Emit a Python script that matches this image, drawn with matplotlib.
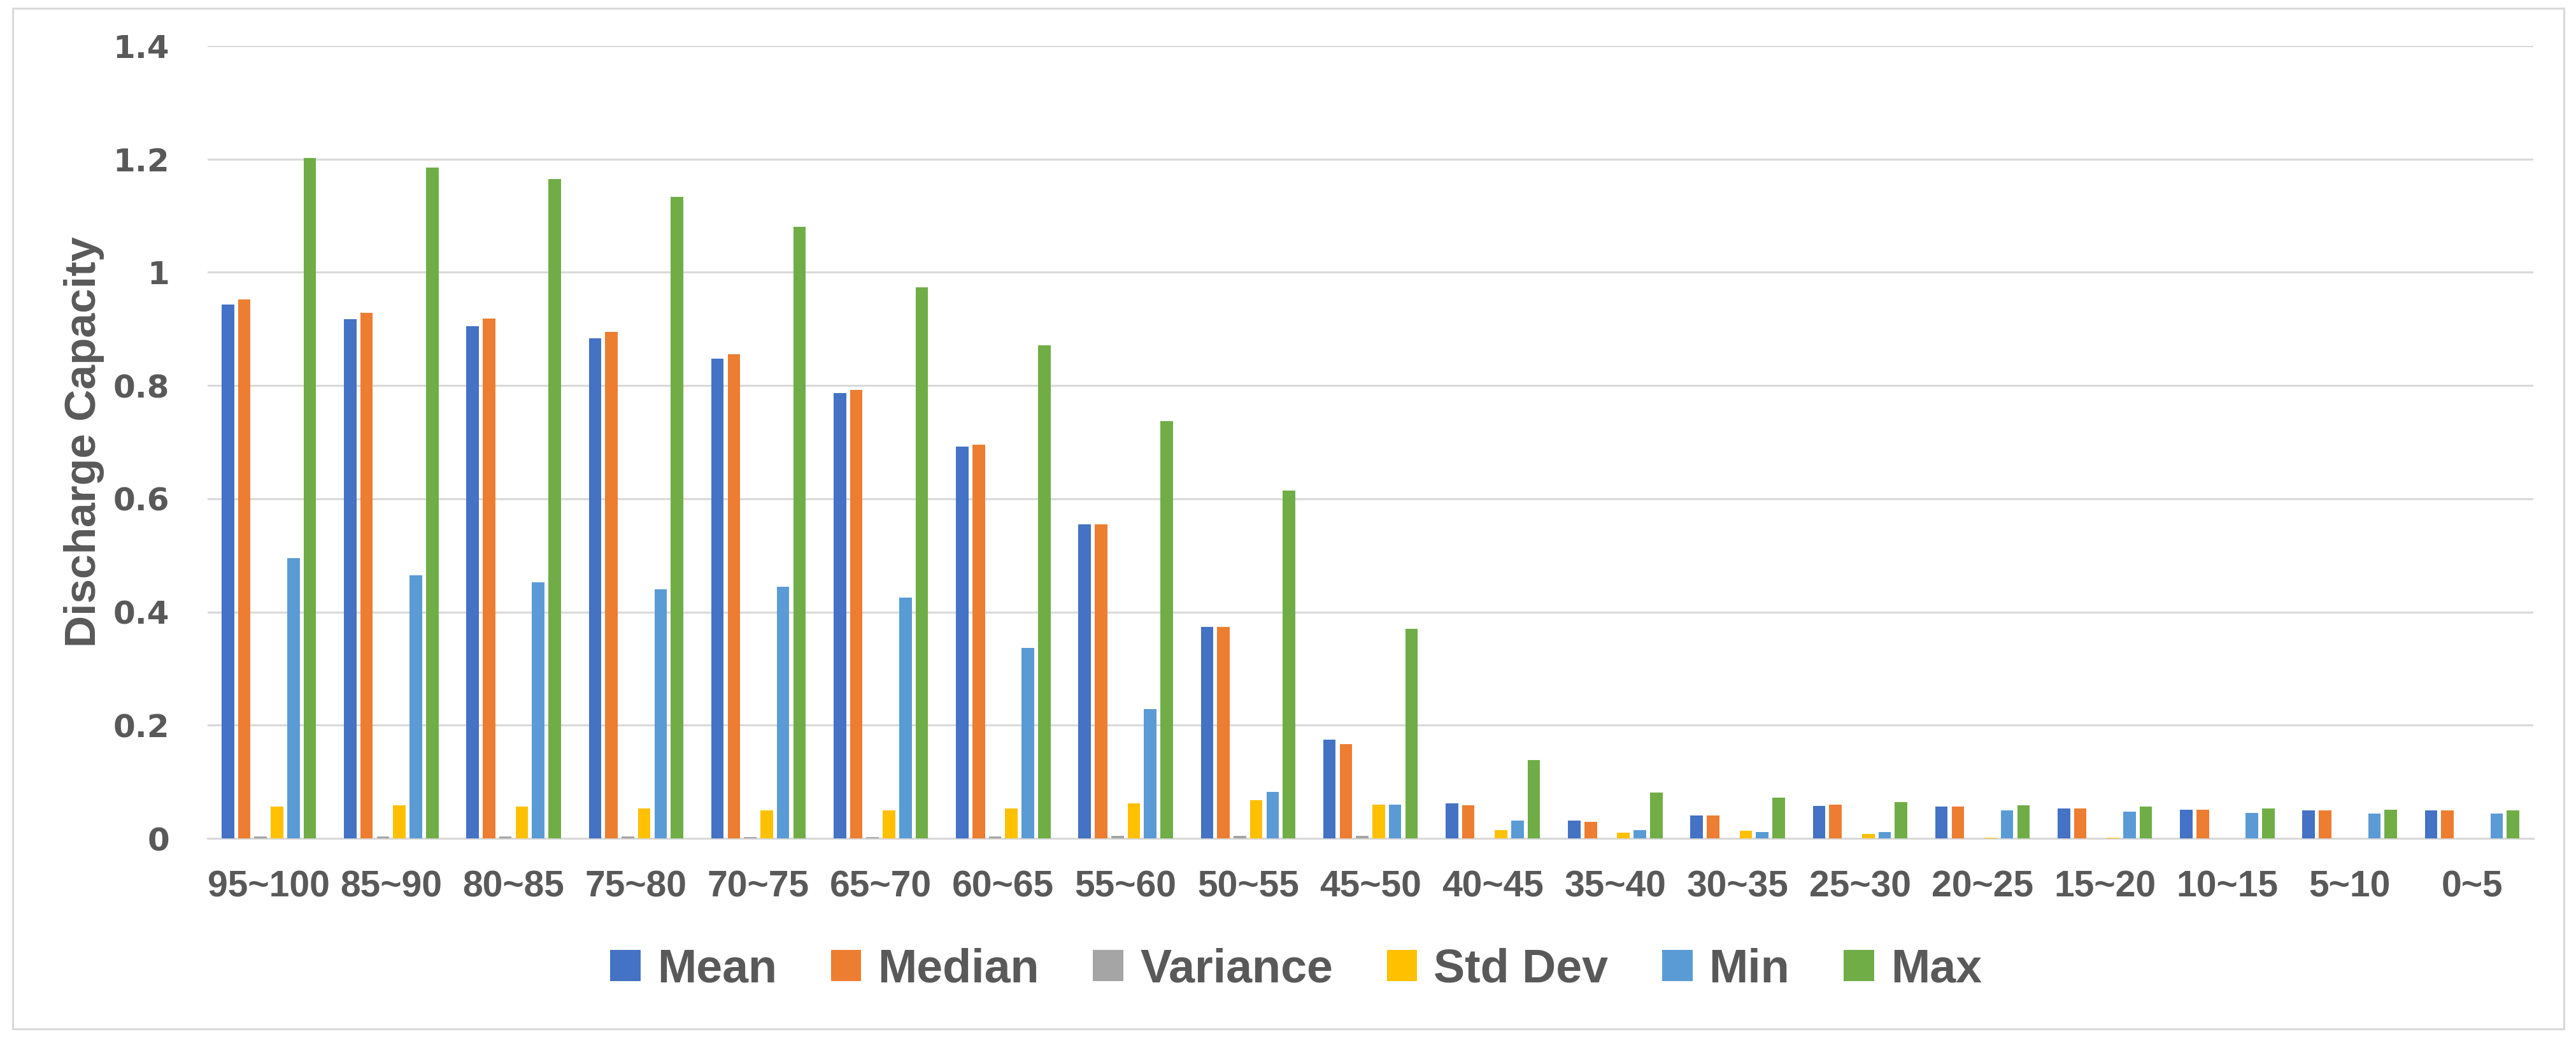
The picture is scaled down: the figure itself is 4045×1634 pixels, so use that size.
import matplotlib
matplotlib.use("Agg")
import matplotlib.pyplot as plt
import numpy as np
from matplotlib.patches import Rectangle

categories = ["95~100", "85~90", "80~85", "75~80", "70~75", "65~70", "60~65",
              "55~60", "50~55", "45~50", "40~45", "35~40", "30~35", "25~30",
              "20~25", "15~20", "10~15", "5~10", "0~5"]

mean_vals = [0.943, 0.917, 0.905, 0.883, 0.847, 0.787, 0.692, 0.555, 0.374, 0.174,
             0.062, 0.031, 0.040, 0.057, 0.056, 0.053, 0.051, 0.050, 0.049]
median_vals = [0.952, 0.928, 0.918, 0.895, 0.855, 0.792, 0.696, 0.555, 0.374, 0.167,
               0.059, 0.029, 0.040, 0.060, 0.056, 0.053, 0.051, 0.050, 0.049]
variance_vals = [0.003, 0.003, 0.003, 0.003, 0.002, 0.002, 0.003, 0.004, 0.004, 0.004,
                 0.0003, 0.0001, 0.0002, 0.0001, 0.0, 0.0, 0.0, 0.0, 0.0]
std_vals = [0.056, 0.058, 0.056, 0.053, 0.049, 0.049, 0.053, 0.062, 0.067, 0.060,
            0.015, 0.010, 0.0135, 0.0083, 0.0006, 0.0006, 0.0005, 0.0005, 0.0005]
min_vals = [0.495, 0.465, 0.452, 0.440, 0.444, 0.425, 0.337, 0.228, 0.082, 0.060,
            0.031, 0.015, 0.011, 0.011, 0.049, 0.047, 0.045, 0.044, 0.044]
max_vals = [1.202, 1.185, 1.165, 1.133, 1.080, 0.973, 0.871, 0.737, 0.614, 0.370,
            0.138, 0.081, 0.072, 0.064, 0.059, 0.056, 0.053, 0.051, 0.050]

series_names = ["Mean", "Median", "Variance", "Std Dev", "Min", "Max"]
series_vals = [mean_vals, median_vals, variance_vals, std_vals, min_vals, max_vals]
colors = ["#4472C4", "#ED7D31", "#A5A5A5", "#FFC000", "#5B9BD5", "#70AD47"]
yticks = [0, 0.2, 0.4, 0.6, 0.8, 1.0, 1.2, 1.4]
ytick_labels = ["0", "0.2", "0.4", "0.6", "0.8", "1", "1.2", "1.4"]

W, H = 4045, 1634
fig = plt.figure(figsize=(W / 100, H / 100), dpi=100)
ax = fig.add_axes([326 / W, 1 - 1316 / H, (3978 - 326) / W, (1316 - 72) / H])

txt_color = "#595959"
grid_color = "#D9D9D9"
sans = ["Liberation Sans", "DejaVu Sans"]

x = np.arange(len(categories))
pitch = 0.134
bw = 0.102
for i, (name, vals, c) in enumerate(zip(series_names, series_vals, colors)):
    ax.bar(x + (i - 2.5) * pitch, vals, width=bw, color=c, label=name, zorder=3,
           linewidth=0)

ax.set_xlim(-0.5, len(categories) - 0.5)
ax.set_ylim(0, 1.4)
ax.set_yticks(yticks)
ax.set_yticklabels(ytick_labels, fontsize=36, fontweight="bold", color=txt_color,
                   family=["DejaVu Sans"])
ax.set_xticks(x)
ax.set_xticklabels(categories, fontsize=41, fontweight="bold", color=txt_color,
                   family=sans)
ax.tick_params(axis="y", length=0, pad=43)
ax.tick_params(axis="x", length=0, pad=36)
ax.grid(axis="y", color=grid_color, linewidth=2.2, zorder=0)
ax.set_axisbelow(True)
for s in ["top", "right", "left"]:
    ax.spines[s].set_visible(False)
ax.spines["bottom"].set_color(grid_color)
ax.spines["bottom"].set_linewidth(2.2)

ax.set_ylabel("Discharge Capacity", fontsize=50, fontweight="bold", color=txt_color,
              family=sans, va="center")
ax.yaxis.set_label_coords((132 - 326) / (3978 - 326), 0.5)

handles, labels = ax.get_legend_handles_labels()
leg = fig.legend(handles, labels, loc="center", ncol=6,
                 bbox_to_anchor=(2035 / W, 1 - 1522 / H), frameon=False,
                 prop={"family": sans, "weight": "bold", "size": 53},
                 handlelength=0.65, handleheight=0.65, handletextpad=0.35,
                 columnspacing=1.15, borderaxespad=0, borderpad=0)
for t in leg.get_texts():
    t.set_color(txt_color)

fig.patches.append(Rectangle((20 / W, 1 - 1615 / H), (4026 - 20) / W, (1615 - 13) / H,
                             transform=fig.transFigure, fill=False,
                             edgecolor=grid_color, linewidth=2.2))

fig.savefig("out.png", dpi=100, facecolor="white")
